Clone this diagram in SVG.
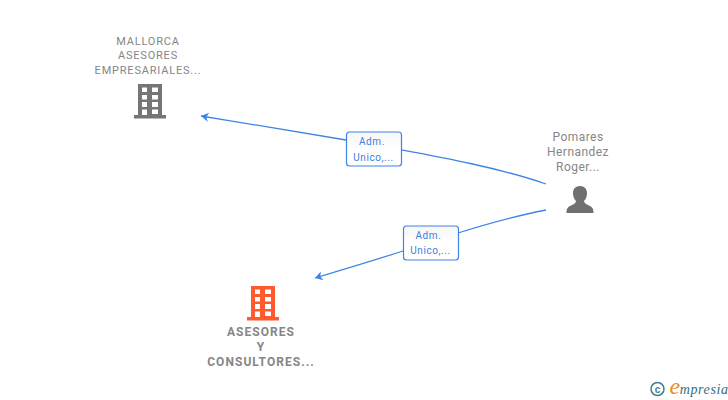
<svg xmlns="http://www.w3.org/2000/svg" width="728" height="400" viewBox="0 0 728 400">
<style>
text{font-family:Roboto,"Liberation Sans",sans-serif;text-anchor:middle}
.n{font-size:11px;fill:#868686;letter-spacing:.8px}
.b{font-size:12px;font-weight:700;fill:#868686;letter-spacing:1.05px}
.p{font-size:12px;fill:#868686;letter-spacing:.45px}
.l{font-size:10px;fill:#3b7fe0;letter-spacing:.6px}
.c{fill:none;stroke:#3f84e5;stroke-width:1.3}
.box{fill:#fff;stroke:#3f84e5;stroke-width:1.2}
</style>
<defs>
<marker id="a" markerUnits="userSpaceOnUse" markerWidth="10" markerHeight="12" refX="9" refY="6" orient="auto"><path d="M9 6L1.500 1.500L3.500 6L1.500 10.500Z" fill="#3f84e5"/></marker>
<linearGradient id="g" x1="0" y1="0" x2="0" y2="1"><stop offset="0" stop-color="#f6f6f6"/><stop offset=".5" stop-color="#fff"/></linearGradient>
<path id="bld" fill-rule="evenodd" d="M4 0H28V31H32V34.500H0V31H4ZM8 3.500V8H13V3.500ZM18 3.500V8H24V3.500ZM8 11V15.500H13V11ZM18 11V15.500H24V11ZM8 18V23H13V18ZM18 18V23H24V18ZM8 25.500V31H13V25.500ZM18 25.500V30H24V25.500Z"/>
</defs>
<g id="connectors">
<path class="c" marker-end="url(#a)" d="M546 184C500 168 440 157 402 150M346 140C300 132 250 124 201 116"/>
<path class="c" marker-end="url(#a)" d="M546 210C515 216 487 224 458 233M403 251C375 260 345 269 315 278"/>
</g>
<g id="node-mallorca">
<text class="n" x="148" y="45">MALLORCA</text>
<text class="n" x="148" y="59">ASESORES</text>
<text class="n" x="148" y="74">EMPRESARIALES...</text>
<use href="#bld" x="134" y="84" fill="#757575"/>
</g>
<g id="node-asesores">
<use href="#bld" x="247" y="286" fill="#ff5a2b"/>
<text class="b" x="261" y="336">ASESORES</text>
<text class="b" x="261" y="351">Y</text>
<text class="b" x="261" y="366">CONSULTORES...</text>
</g>
<g id="node-pomares">
<text class="p" x="578" y="141">Pomares</text>
<text class="p" x="578" y="156">Hernandez</text>
<text class="p" x="578" y="171">Roger...</text>
<path fill="#707070" d="M580 186C584.500 186 587 189 587 193C587 197 585.500 199.500 584 201C584 203 586 204 589 205.500C592 207 593.500 208 593.500 213H566.500C566.500 208 568 207 571 205.500C574 204 576 203 576 201C574.500 199.500 573 197 573 193C573 189 575.500 186 580 186Z"/>
</g>
<g id="label-1">
<rect class="box" x="346.500" y="132" width="55" height="34" rx="3" style="fill:url(#g)"/>
<text class="l" x="372" y="145">Adm.</text>
<text class="l" x="373.500" y="161">Unico,...</text>
</g>
<g id="label-2">
<rect class="box" x="403.500" y="226" width="55" height="34" rx="3" style="fill:url(#g)"/>
<text class="l" x="428.500" y="239">Adm.</text>
<text class="l" x="430.500" y="254">Unico,...</text>
</g>
<g id="logo">
<circle cx="657.500" cy="389" r="6.500" fill="none" stroke="#3d7f8f" stroke-width="1.500"/>
<text x="657.500" y="392.500" style="font-size:10px;font-weight:700;fill:#3d7f8f;font-family:'Liberation Sans',sans-serif">c</text>
<text x="699" y="394" style="font-size:14px;font-style:italic;fill:#2f6f80;font-family:'Liberation Serif',serif;letter-spacing:.6px"><tspan style="font-size:24px;fill:#f08a1d" dx="0">e</tspan><tspan dx="-1">mpresia</tspan></text>
</g>
</svg>
